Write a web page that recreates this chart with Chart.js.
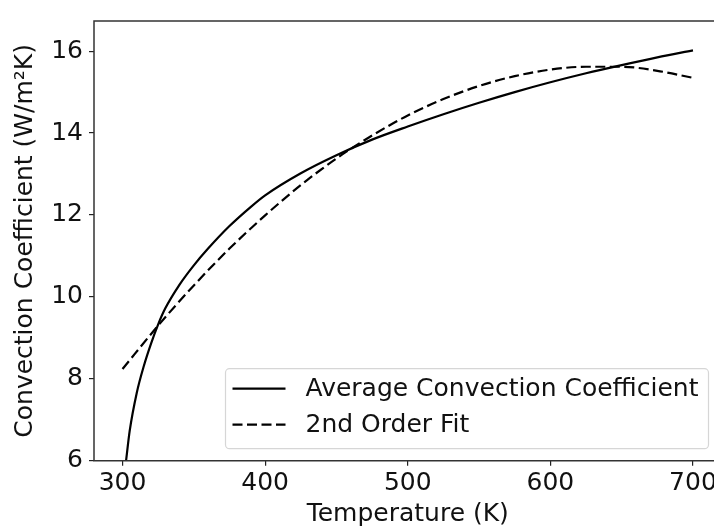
<!DOCTYPE html>
<html>
<head>
<meta charset="utf-8">
<script src="https://cdn.jsdelivr.net/npm/chart.js@4/dist/chart.umd.min.js"></script>
<style>
  html, body { margin: 0; padding: 0; background: #fff; overflow: hidden; }
  #wrap { width: 714px; height: 531px; overflow: hidden; position: relative; }
  canvas { display: block; }
</style>
</head>
<body>
<div id="wrap"><canvas id="chart" width="760" height="531"></canvas></div>
<script>
// average convection coefficient vs temperature
const avgTemps = [302.5, 305, 310, 315, 320, 325, 330, 340, 350, 360, 375, 390, 400, 425, 450, 475, 500, 525, 550, 575, 600, 625, 650, 675, 700]
const avgCoeffs = [6.0, 6.72, 7.66, 8.32, 8.86, 9.33, 9.72, 10.30, 10.77, 11.18, 11.73, 12.20, 12.48, 13.02, 13.46, 13.84, 14.16, 14.46, 14.74, 15.00, 15.24, 15.46, 15.66, 15.85, 16.02]

// 2nd order fit
const fitTemps = [300, 325, 350, 375, 400, 425, 450, 475, 500, 525, 550, 575, 600, 625, 650, 675, 700]
const fitCoeffs = [8.24, 9.30, 10.28, 11.18, 11.99, 12.73, 13.38, 13.94, 14.43, 14.83, 15.15, 15.39, 15.55, 15.62, 15.62, 15.52, 15.35]

const xTicks = [300, 400, 500, 600, 700]
const yTicks = [6, 8, 10, 12, 14, 16]

const FONT = 'DejaVu Sans'
const SIZE = 25
const INK = '#111'

const toPoints = (xs, ys) => xs.map((x, i) => ({ x: x, y: ys[i] }))

// spines: left, top and bottom (right one falls past the canvas edge)
const frame = {
    id: 'frame',
    afterDatasetsDraw(chart) {
        const a = chart.chartArea
        const ctx = chart.ctx
        ctx.save()
        ctx.strokeStyle = '#333'
        ctx.lineWidth = 1.5
        ctx.beginPath()
        ctx.moveTo(a.right + 20, a.top)
        ctx.lineTo(a.left, a.top)
        ctx.lineTo(a.left, a.bottom)
        ctx.lineTo(a.right + 20, a.bottom)
        ctx.stroke()
        ctx.restore()
    }
}

// legend drawn inside the lower right corner of the plot
const innerLegend = {
    id: 'innerLegend',
    afterDraw(chart) {
        const a = chart.chartArea
        const ctx = chart.ctx
        const w = 483, h = 80
        const x = a.right - 13 - w
        const y = a.bottom - 12 - h
        ctx.save()
        ctx.fillStyle = 'rgba(255,255,255,0.85)'
        ctx.strokeStyle = '#d6d6d6'
        ctx.lineWidth = 1.2
        ctx.beginPath()
        ctx.roundRect(x, y, w, h, 4)
        ctx.fill()
        ctx.stroke()

        ctx.font = SIZE + 'px "' + FONT + '"'
        ctx.textBaseline = 'middle'
        chart.data.datasets.forEach((ds, i) => {
            const ry = y + 20 + i * 36
            ctx.strokeStyle = ds.borderColor
            ctx.lineWidth = ds.borderWidth
            ctx.setLineDash(ds.borderDash || [])
            ctx.beginPath()
            ctx.moveTo(x + 7, ry)
            ctx.lineTo(x + 60, ry)
            ctx.stroke()
            ctx.setLineDash([])
            ctx.fillStyle = INK
            ctx.fillText(ds.label, x + 80, ry + 1)
        })
        ctx.restore()
    }
}

const ctx = document.getElementById('chart').getContext('2d')

new Chart(ctx, {
    type: 'line',
    data: {
        datasets: [{
            label: 'Average Convection Coefficient',
            data: toPoints(avgTemps, avgCoeffs),
            borderColor: '#000',
            borderWidth: 2.2,
            pointRadius: 0,
            cubicInterpolationMode: 'monotone',
            fill: false
        }, {
            label: '2nd Order Fit',
            data: toPoints(fitTemps, fitCoeffs),
            borderColor: '#000',
            borderWidth: 2.2,
            borderDash: [10, 4.5],
            pointRadius: 0,
            cubicInterpolationMode: 'monotone',
            fill: false
        }]
    },
    options: {
        responsive: false,
        animation: false,
        events: [],
        layout: { padding: { top: 9, right: 38.5, left: 0, bottom: 0 } },
        plugins: {
            legend: { display: false },
            tooltip: { enabled: false }
        },
        scales: {
            x: {
                type: 'linear',
                min: 280,
                max: 720,
                afterBuildTicks: s => { s.ticks = xTicks.map(v => ({ value: v })) },
                afterFit: s => { s.height = 70.3 },
                border: { display: false },
                grid: { drawOnChartArea: false, drawTicks: true, tickLength: 5, color: '#222', lineWidth: 1.2 },
                ticks: { font: { family: FONT, size: SIZE }, color: INK, padding: 3, maxRotation: 0 },
                title: { display: true, text: 'Temperature (K)', font: { family: FONT, size: SIZE }, color: INK, padding: { top: 0, bottom: 2 } }
            },
            y: {
                type: 'linear',
                min: 6,
                max: 16.737,
                afterBuildTicks: s => { s.ticks = yTicks.map(v => ({ value: v })) },
                afterFit: s => { s.width = 94 },
                border: { display: false },
                grid: { drawOnChartArea: false, drawTicks: true, tickLength: 5, color: '#222', lineWidth: 1.2 },
                ticks: { font: { family: FONT, size: SIZE }, color: INK, padding: 6 },
                title: { display: true, text: 'Convection Coefficient (W/m²K)', font: { family: FONT, size: SIZE }, color: INK, padding: { top: 10, bottom: 0 } }
            }
        }
    },
    plugins: [frame, innerLegend]
})
</script>
</body>
</html>
